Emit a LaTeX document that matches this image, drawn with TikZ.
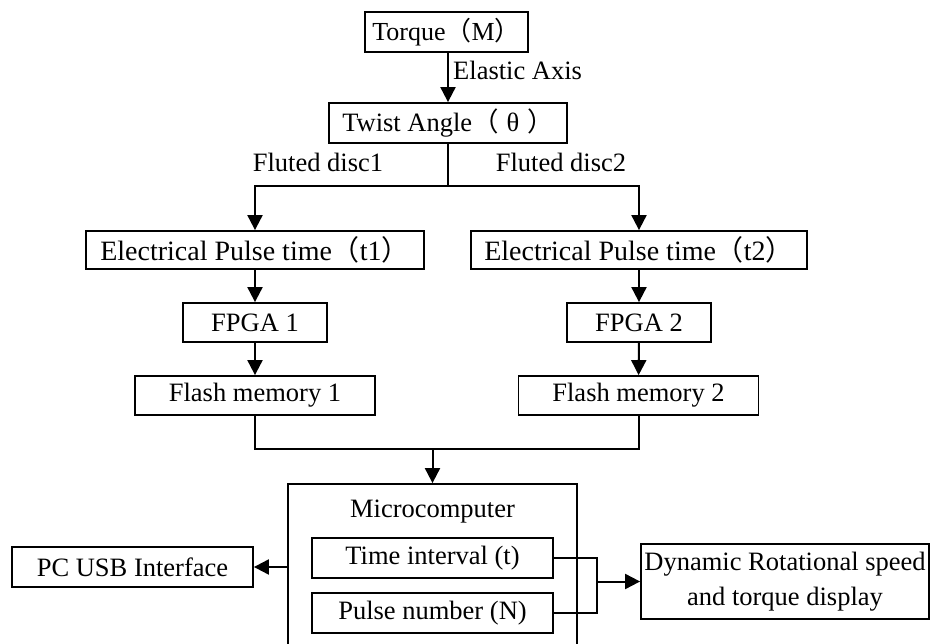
\documentclass[tikz,border=0pt]{standalone}
\usepackage{fontspec}
\setmainfont{Liberation Serif}
\newfontfamily\cjk{Noto Sans CJK SC}
\usetikzlibrary{arrows.meta}
\newcommand{\lp}{{\cjk（}}
\newcommand{\rp}{{\cjk）}}
\begin{document}
\begin{tikzpicture}[x=1pt,y=-1pt,
  bx/.style={draw,line width=1.8pt,inner sep=0pt,align=center,font=\fontsize{26.5}{35}\selectfont},
  bigtxt/.style={font=\fontsize{28}{35}\selectfont},
  lbl/.style={inner sep=0pt,font=\fontsize{26.5}{30}\selectfont},
  ln/.style={line width=2pt},
  arr/.style={line width=2pt,-{Triangle[length=15pt,width=15pt]}}]
\clip (0,0) rectangle (930,644);
\fill[white] (0,0) rectangle (930,644);
% nodes
\node[bx,font=\fontsize{26}{30}\selectfont,minimum width=163,minimum height=40] (torque) at (446.5,32) {Torque\lp M\rp};
\node[bx,minimum width=238,minimum height=40] (twist) at (448,123) {Twist Angle\lp\hspace{0.3em}θ\hspace{0.3em}\rp};
\node[bx,bigtxt,minimum width=338,minimum height=38] (t1) at (255,250) {Electrical Pulse time\lp t1\rp};
\node[bx,bigtxt,minimum width=336,minimum height=38] (t2) at (639,250) {Electrical Pulse time\lp t2\rp};
\node[bx,minimum width=144,minimum height=39] (fpga1) at (255,322.5) {FPGA 1};
\node[bx,minimum width=144,minimum height=39] (fpga2) at (639,322.5) {FPGA 2};
\node[bx,minimum width=240,minimum height=39] (flash1) at (255,395.5) {Flash memory 1};
\node[bx,minimum width=240,minimum height=39] (flash2) at (638.5,395.5) {Flash memory 2};
\node[bx,minimum width=289,minimum height=180] (micro) at (432.5,574) {};
\node[lbl] (mt) at (432.5,512) {Microcomputer};
\node[bx,minimum width=241,minimum height=40] (ti) at (432.5,558) {Time interval (t)};
\node[bx,minimum width=241,minimum height=40] (pn) at (432.5,613) {Pulse number (N)};
\node[bx,minimum width=241,minimum height=40] (pc) at (132.5,567) {PC USB Interface};
\node[bx,minimum width=288,minimum height=75] (dyn) at (785,581.5) {Dynamic Rotational speed\\and torque display};
% labels
\node[lbl,anchor=west] (ea) at (453,70) {Elastic Axis};
\node[lbl] (fd1) at (318,162) {Fluted disc1};
\node[lbl] (fd2) at (561,162) {Fluted disc2};
% connectors
\draw[arr] (torque.south -| twist.north) -- (twist.north);
\coordinate (sp) at (448,186);
\draw[ln] (twist.south) -- (sp);
\draw[arr] (sp) -| (t1.north);
\draw[arr] (sp) -| (t2.north);
\draw[arr] (t1) -- (fpga1);
\draw[arr] (t2) -- (fpga2);
\draw[arr] (fpga1) -- (flash1);
\draw[arr] (fpga2) -- (flash2);
\coordinate (mg) at (432.5,449);
\draw[ln] (flash1.south) |- (flash2.south |- mg) -- (flash2.south);
\draw[arr] (mg) -- (micro.north);
\draw[arr] (micro.west |- pc) -- (pc.east);
\coordinate (jn) at (597,581.5);
\draw[ln] (ti.east) -| (jn);
\draw[ln] (pn.east) -| (jn);
\draw[arr] (jn) -- (dyn.west);
\end{tikzpicture}
\end{document}
